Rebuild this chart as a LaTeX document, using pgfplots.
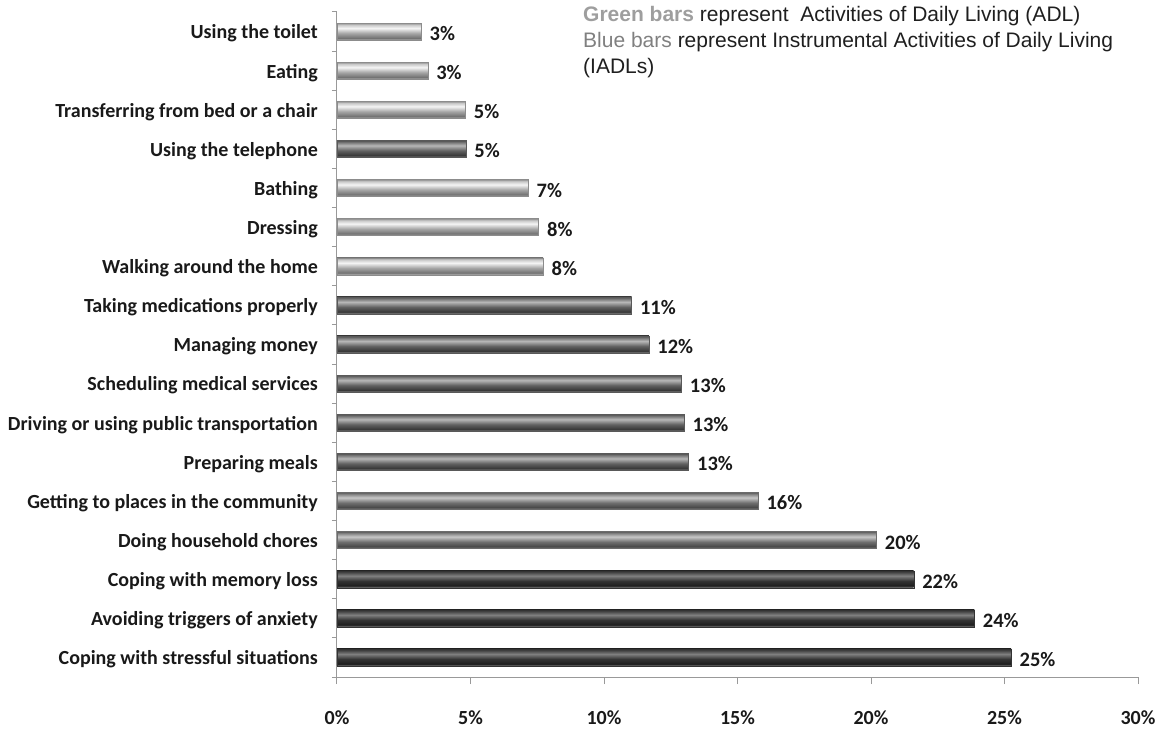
\documentclass[border=0pt]{standalone}
\usepackage{pgfplots}
\pgfplotsset{compat=1.18}
\usepackage{fontspec}
\setmainfont{Carlito}
\newfontfamily\legendfont{Liberation Sans}
% bar shadings (bottom 25bp -> top 75bp)
\pgfdeclareverticalshading{shlight}{100bp}{color(0bp)=(black!30); color(25bp)=(black!30); color(31bp)=(black!55); color(45bp)=(black!35); color(60bp)=(black!4); color(70bp)=(black!22); color(75bp)=(black!45); color(100bp)=(black!45)}
\pgfdeclareverticalshading{shmidlight}{100bp}{color(0bp)=(black!42); color(25bp)=(black!42); color(31bp)=(black!72); color(45bp)=(black!56); color(60bp)=(black!22); color(70bp)=(black!48); color(75bp)=(black!65); color(100bp)=(black!65)}
\pgfdeclareverticalshading{shmid}{100bp}{color(0bp)=(black!45); color(25bp)=(black!45); color(31bp)=(black!78); color(45bp)=(black!62); color(60bp)=(black!28); color(70bp)=(black!55); color(75bp)=(black!70); color(100bp)=(black!70)}
\pgfdeclareverticalshading{shdark}{100bp}{color(0bp)=(black!50); color(25bp)=(black!50); color(31bp)=(black!88); color(45bp)=(black!80); color(60bp)=(black!50); color(70bp)=(black!72); color(75bp)=(black!82); color(100bp)=(black!82)}
\pgfplotsset{
  lightbar/.style={draw=black!45, line width=0.4pt, shading=shlight},
  midlightbar/.style={draw=black!58, line width=0.4pt, shading=shmidlight},
  midbar/.style={draw=black!65, line width=0.4pt, shading=shmid},
  darkbar/.style={draw=black!80, line width=0.4pt, shading=shdark},
}
\begin{document}
\begin{tikzpicture}
\useasboundingbox (0,0) rectangle (1163pt,729pt);
\begin{axis}[
  at={(337pt,52pt)}, anchor=south west,
  scale only axis, width=801pt, height=665pt,
  xmin=0, xmax=30, ymin=-0.5, ymax=16.5,
  axis x line*=bottom, axis y line*=left,
  axis line style={-, draw=black!40, line width=1pt},
  xtick={0,5,10,15,20,25,30},
  xticklabels={0\%,5\%,10\%,15\%,20\%,25\%,30\%},
  ytick={0,...,16},
  yticklabels={Coping with stressful situations, Avoiding triggers of anxiety, Coping with memory loss, Doing household chores, Getting to places in the community, Preparing meals, Driving or using public transportation, Scheduling medical services, Managing money, Taking medications properly, Walking around the home, Dressing, Bathing, Using the telephone, Transferring from bed or a chair, Eating, Using the toilet},
  minor ytick={-0.5,0.5,1.5,2.5,3.5,4.5,5.5,6.5,7.5,8.5,9.5,10.5,11.5,12.5,13.5,14.5,15.5,16.5},
  tick align=outside,
  major tick length=7pt, minor tick length=5pt,
  every major y tick/.append style={draw=none},
  every tick/.append style={draw=black!40, line width=1pt},
  every minor tick/.append style={draw=black!40, line width=1pt},
  ticklabel style={font=\fontsize{20}{22}\selectfont\bfseries, text=black!90},
  yticklabel style={inner sep=0pt, xshift=-12pt, yshift=-2pt},
  xticklabel style={yshift=-23pt},
  /pgf/number format/assume math mode=true,
  xbar, bar width=17pt, bar shift=0pt,
  point meta=x,
  nodes near coords={\pgfmathprintnumber[fixed,precision=0]{\pgfplotspointmeta}\%},
  nodes near coords style={anchor=west, font=\fontsize{20.5}{22}\selectfont\bfseries, text=black!90, xshift=5pt, yshift=-2pt},
  clip=false,
]
% ADL (light)
\addplot[lightbar] coordinates {(3.15,16)};
\addplot[lightbar] coordinates {(3.40,15)};
\addplot[lightbar] coordinates {(4.81,14)};
\addplot[lightbar] coordinates {(7.16,12)};
\addplot[lightbar] coordinates {(7.55,11)};
\addplot[lightbar] coordinates {(7.72,10)};
% IADL
\addplot[midbar] coordinates {(4.83,13)};
\addplot[midbar] coordinates {(11.03,9)};
\addplot[midbar] coordinates {(11.68,8)};
\addplot[midbar] coordinates {(12.9,7)};
\addplot[midbar] coordinates {(13.0,6)};
\addplot[midbar] coordinates {(13.17,5)};
\addplot[midlightbar] coordinates {(15.77,4)};
\addplot[midlightbar] coordinates {(20.2,3)};
\addplot[darkbar] coordinates {(21.6,2)};
\addplot[darkbar] coordinates {(23.87,1)};
\addplot[darkbar] coordinates {(25.25,0)};
\end{axis}
\node[anchor=base west, inner sep=0pt, font=\legendfont\fontsize{21}{25}\selectfont, text=black!88] at (583pt,707pt) {\textcolor{black!38}{\bfseries Green bars} represent\ \ Activities of Daily Living (ADL)};
\node[anchor=base west, inner sep=0pt, font=\legendfont\fontsize{21}{25}\selectfont, text=black!88] at (583pt,681pt) {\textcolor{black!50}{Blue bars} represent Instrumental Activities of Daily Living};
\node[anchor=base west, inner sep=0pt, font=\legendfont\fontsize{21}{25}\selectfont, text=black!88] at (583pt,655pt) {(IADLs)};
\end{tikzpicture}
\end{document}
